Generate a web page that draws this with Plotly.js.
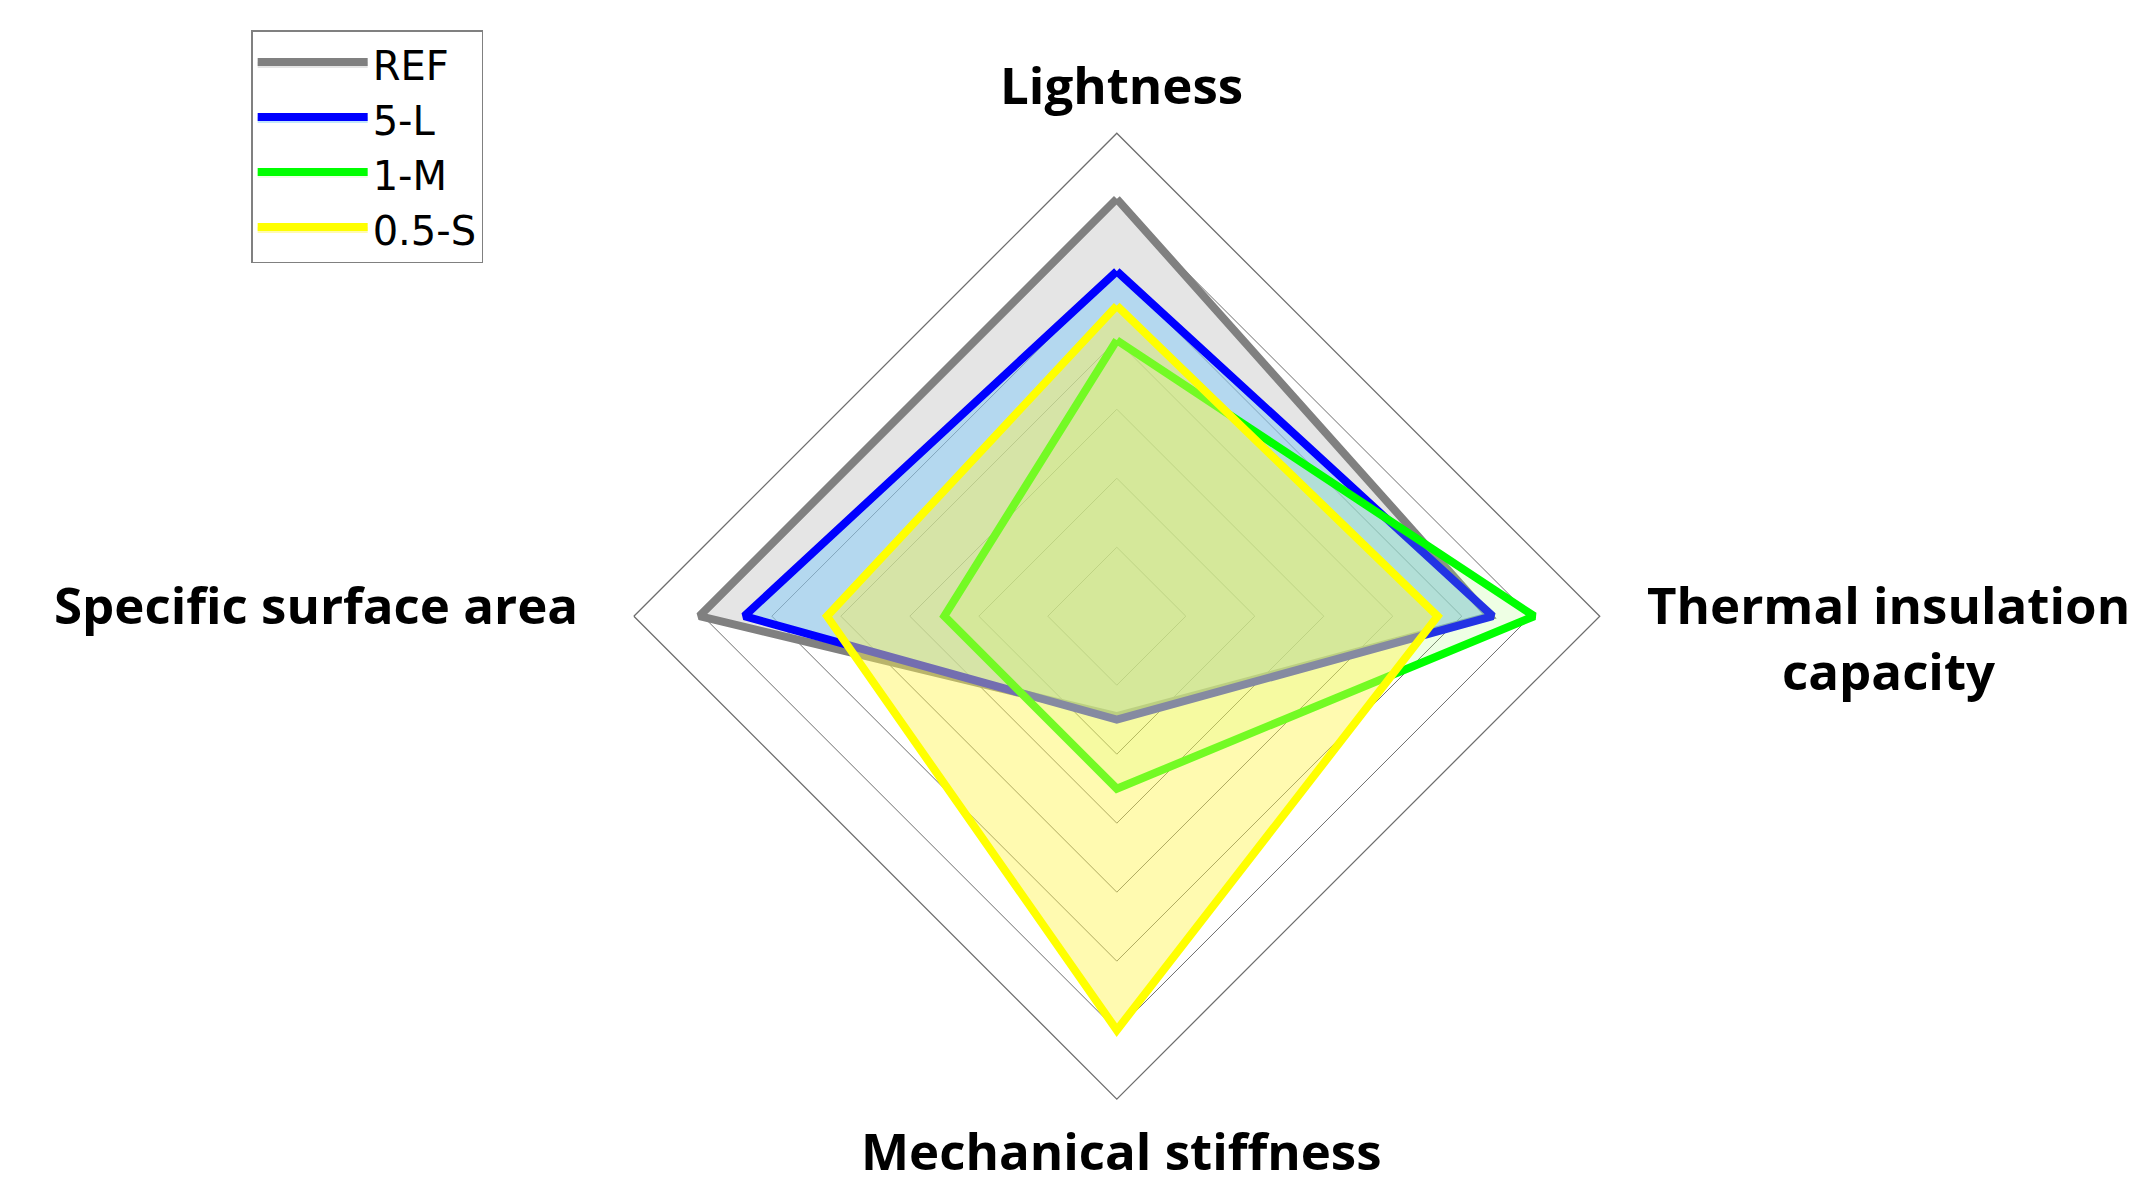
<!DOCTYPE html>
<html>
<head>
<meta charset="utf-8">
<script src="https://cdn.plot.ly/plotly-3.0.1.min.js"></script>
<style>
  html, body { margin: 0; padding: 0; background: #ffffff; }
  #radar { width: 2156px; height: 1200px; }
</style>
</head>
<body>
<div id="radar"></div>
<script>
// axes, clockwise from the top
const categories = ["Lightness", "Thermal insulation capacity", "Mechanical stiffness", "Specific surface area"];

// scores (scale 0-7)
const refValues  = [6.05, 5.4, 1.45, 6.05];
const fiveL      = [5.0, 5.45, 1.5, 5.4];
const oneM       = [4.0, 6.05, 2.5, 2.5];
const halfS      = [4.5, 4.65, 6.0, 4.2];

const seriesNames = ["REF", "5-L", "1-M", "0.5-S"];
const lineColors  = ["#808080", "#0000ff", "#00ff00", "#ffff00"];
const fillColors  = [
    "rgba(190,190,190,0.40)",
    "rgba(120,200,250,0.45)",
    "rgba(170,255,120,0.20)",
    "rgba(255,245,80,0.45)"
];

// close the polygon by repeating the first point
const closed = arr => arr.concat([arr[0]]);

const traces = [refValues, fiveL, oneM, halfS].map((vals, i) => ({
    type: "scatterpolar",
    r: closed(vals),
    theta: closed(categories),
    name: seriesNames[i],
    mode: "lines",
    fill: "toself",
    fillcolor: fillColors[i],
    line: { color: lineColors[i], width: 8 },
    legendgroup: seriesNames[i],
    hoverinfo: "skip"
}));

const labelFont = { family: "'Open Sans', Roboto, sans-serif", size: 51, color: "#000000", weight: 700 };

const layout = {
    width: 2156,
    height: 1200,
    margin: { t: 0, l: 0, r: 0, b: 0 },
    paper_bgcolor: "#ffffff",
    showlegend: true,
    legend: {
        x: 0.1165, y: 0.975, xanchor: "left", yanchor: "top",
        bgcolor: "#ffffff",
        bordercolor: "#808080",
        borderwidth: 1.5,
        font: { family: "'DejaVu Sans', 'Liberation Sans', sans-serif", size: 40, color: "#000000" },
        itemwidth: 110,
        traceorder: "grouped",
        tracegroupgap: 0
    },
    polar: {
        domain: { x: [0.294, 0.742], y: [0.084, 0.889] },
        bgcolor: "rgba(0,0,0,0)",
        gridshape: "linear",
        radialaxis: {
            range: [0, 7],
            dtick: 1,
            showticklabels: false,
            ticks: "",
            showline: false,
            gridcolor: "#6e6e6e",
            gridwidth: 1
        },
        angularaxis: {
            rotation: 90,
            direction: "clockwise",
            showticklabels: false,
            ticks: "",
            showgrid: false,
            showline: true,
            linecolor: "#6e6e6e",
            linewidth: 1.3
        }
    },
    annotations: [
        { text: categories[0], x: 0.52, y: 0.93, xanchor: "center", yanchor: "middle" },
        { text: categories[1].replace("insulation ", "insulation<br>"), x: 0.876, y: 0.469, xanchor: "center", yanchor: "middle" },
        { text: categories[2], x: 0.52, y: 0.042, xanchor: "center", yanchor: "middle" },
        { text: categories[3], x: 0.269, y: 0.497, xanchor: "right", yanchor: "middle" }
    ].map(a => ({ ...a, xref: "paper", yref: "paper", showarrow: false, font: labelFont }))
};

Plotly.newPlot("radar", traces, layout, { displayModeBar: false, staticPlot: true });
</script>
</body>
</html>
